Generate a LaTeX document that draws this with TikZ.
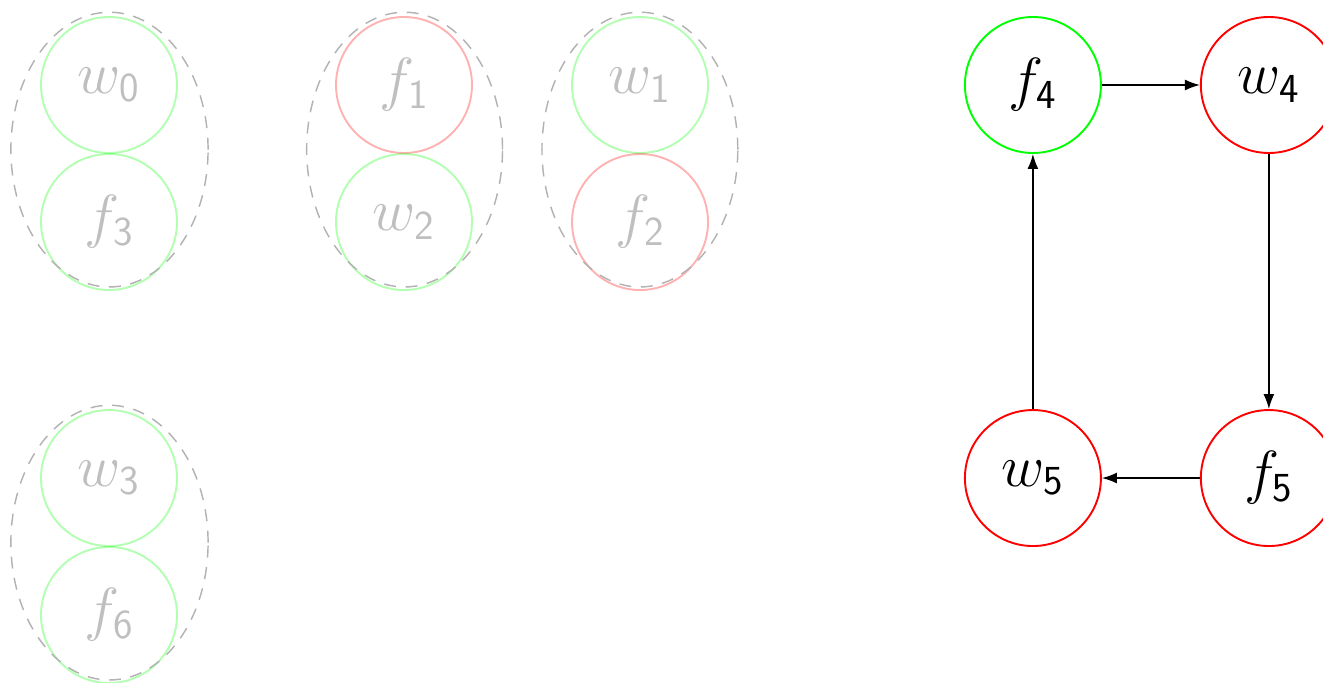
\documentclass[tikz,border=0pt]{standalone}
\usetikzlibrary{arrows.meta}

\newcommand{\lbl}[2]{\Huge$#1_{\hbox{\LARGE\sffamily #2}}$}

\tikzset{
	vertex/.style={circle, draw, line width=0.8pt, minimum size=2cm, inner sep=0pt},
	faded/.style={opacity=0.3, text opacity=0.25},
	pair/.style={draw=black!30, dashed, line width=0.6pt, dash pattern=on 5pt off 4pt},
	edge/.style={-{Latex[length=2.2mm,width=1.6mm]}, line width=0.6pt}
}

\begin{document}
\begin{tikzpicture}
		\useasboundingbox (0,0) rectangle (19.456,-10.044);
		
		% matched pairs
		\node[vertex, faded, draw=green] (w0) at (1.603,-1.25) {\lbl{w}{0}};
		\node[vertex, faded, draw=green] (f3) at (1.603,-3.265) {\lbl{f}{3}};
		\node[vertex, faded, draw=red] (f1) at (5.941,-1.25) {\lbl{f}{1}};
		\node[vertex, faded, draw=green] (w2) at (5.941,-3.265) {\lbl{w}{2}};
		\node[vertex, faded, draw=green] (w1) at (9.412,-1.25) {\lbl{w}{1}};
		\node[vertex, faded, draw=red] (f2) at (9.412,-3.265) {\lbl{f}{2}};
		\node[vertex, faded, draw=green] (w3) at (1.603,-7.03) {\lbl{w}{3}};
		\node[vertex, faded, draw=green] (f6) at (1.603,-9.044) {\lbl{f}{6}};
		
		\draw[pair] (1.61,-2.2) ellipse (1.45 and 2.02);
		\draw[pair] (5.95,-2.2) ellipse (1.44 and 2.02);
		\draw[pair] (9.41,-2.2) ellipse (1.44 and 2.02);
		\draw[pair] (1.61,-7.98) ellipse (1.45 and 2.02);
		
		% cycle
		\node[vertex, draw=green] (f4) at (15.19,-1.25) {\lbl{f}{4}};
		\node[vertex, draw=red] (w4) at (18.66,-1.25) {\lbl{w}{4}};
		\node[vertex, draw=red] (f5) at (18.66,-7.03) {\lbl{f}{5}};
		\node[vertex, draw=red] (w5) at (15.19,-7.03) {\lbl{w}{5}};
		
		\draw[edge] (f4) -- (w4);
		\draw[edge] (w4) -- (f5);
		\draw[edge] (f5) -- (w5);
		\draw[edge] (w5) -- (f4);
	\end{tikzpicture}
\end{document}
